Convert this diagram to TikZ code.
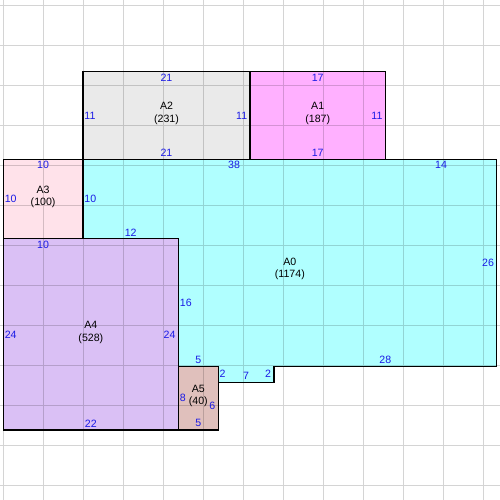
\documentclass[tikz,border=0pt]{standalone}
\usepackage{fontspec}
\setmainfont{Liberation Sans}
\definecolor{cA0}{HTML}{B0FFFF}
\definecolor{cA1}{HTML}{FFB0FF}
\definecolor{cA2}{HTML}{EAEAEA}
\definecolor{cA3}{HTML}{FFE2EA}
\definecolor{cA4}{HTML}{DAC0F5}
\definecolor{cA5}{HTML}{E0C0BC}
\definecolor{lbl}{HTML}{1A1AE6}
\begin{document}
\begin{tikzpicture}[x=1pt,y=-1pt,
  edgelbl/.style={font=\fontsize{10.6}{12}\selectfont, text=lbl, inner sep=0pt},
  toplbl/.style={edgelbl, anchor=center, yshift=-6pt},
  botlbl/.style={edgelbl, anchor=center, yshift=6.5pt},
  leftlbl/.style={edgelbl, anchor=west, xshift=1.3pt},
  rightlbl/.style={edgelbl, anchor=east, xshift=-2.7pt},
  namelbl/.style={font=\fontsize{10.6}{12.5}\selectfont, align=center, inner sep=0pt, yshift=2pt},
  room/.style={draw=black, line width=1.2pt, line join=miter},
  gridline/.style={black, opacity=0.17, line width=1pt}]
\useasboundingbox (0,0) rectangle (500,500);
\fill[white] (0,0) rectangle (500,500);
\begin{scope}[shift={(3.3,71.7)}, x=7.96pt, y=-7.96pt]
  \fill[cA2] (10,0) rectangle (31,11);
  \fill[cA1] (31,0) rectangle (48,11);
  \fill[cA3] (0,11) rectangle (10,21);
  \fill[cA4] (0,21) rectangle (22,45);
  \fill[cA5] (22,37) rectangle (27,45);
  \fill[cA0] (10,11) -- (62,11) -- (62,37) -- (34,37) -- (34,39) -- (27,39) -- (27,37) -- (22,37) -- (22,21) -- (10,21) -- cycle;
\end{scope}
% grid
\draw[gridline] \foreach \i in {0,...,12} { (3.3+40*\i,0) -- (3.3+40*\i,500) (0,5.8+40*\i) -- (500,5.8+40*\i) };
\begin{scope}[shift={(3.3,71.7)}, x=7.96pt, y=-7.96pt]
  \draw[room] (10,0) rectangle (31,11);
  \draw[room] (31,0) rectangle (48,11);
  \draw[room] (0,11) rectangle (10,21);
  \draw[room] (0,21) rectangle (22,45);
  \draw[room] (22,37) rectangle (27,45);
  \draw[room] (10,11) -- (62,11) -- (62,37) -- (34,37) -- (34,39) -- (27,39) -- (27,37) -- (22,37) -- (22,21) -- (10,21) -- cycle;
  % A2
  \node[toplbl] (a2t) at (20.5,0) {21};
  \node[botlbl] (a2b) at (20.5,11) {21};
  \node[leftlbl] (a2l) at (10,5.5) {11};
  \node[rightlbl] (a2r) at (31,5.5) {11};
  \node[namelbl] (a2n) at (20.5,5.5) {A2\\(231)};
  % A1
  \node[toplbl] (a1t) at (39.5,0) {17};
  \node[botlbl] (a1b) at (39.5,11) {17};
  \node[rightlbl] (a1r) at (48,5.5) {11};
  \node[namelbl] (a1n) at (39.5,5.5) {A1\\(187)};
  % A3
  \node[toplbl] (a3t) at (5,11) {10};
  \node[leftlbl] (a3l) at (0,16) {10};
  \node[namelbl] (a3n) at (5,16) {A3\\(100)};
  % A0
  \node[toplbl] (a0t1) at (29,11) {38};
  \node[toplbl] (a0t2) at (55,11) {14};
  \node[leftlbl] (a0l) at (10,16) {10};
  \node[rightlbl] (a0r) at (62,24) {26};
  \node[botlbl] (a0b1) at (16,21) {12};
  \node[leftlbl] (a0l2) at (22,29) {16};
  \node[botlbl] (a0b2) at (24.5,37) {5};
  \node[leftlbl] (a0l3) at (27,38) {2};
  \node[botlbl] (a0b3) at (30.5,39) {7};
  \node[rightlbl] (a0r2) at (34,38) {2};
  \node[botlbl] (a0b4) at (48,37) {28};
  \node[namelbl] (a0n) at (36,25) {A0\\(1174)};
  % A4
  \node[toplbl] (a4t) at (5,21) {10};
  \node[leftlbl] (a4l) at (0,33) {24};
  \node[rightlbl] (a4r) at (22,33) {24};
  \node[botlbl] (a4b) at (11,45) {22};
  \node[namelbl] (a4n) at (11,33) {A4\\(528)};
  % A5
  \node[leftlbl] (a5l) at (22,41) {8};
  \node[rightlbl] (a5r) at (27,42) {6};
  \node[botlbl] (a5b) at (24.5,45) {5};
  \node[namelbl] (a5n) at (24.5,41) {A5\\(40)};
\end{scope}
\end{tikzpicture}
\end{document}
